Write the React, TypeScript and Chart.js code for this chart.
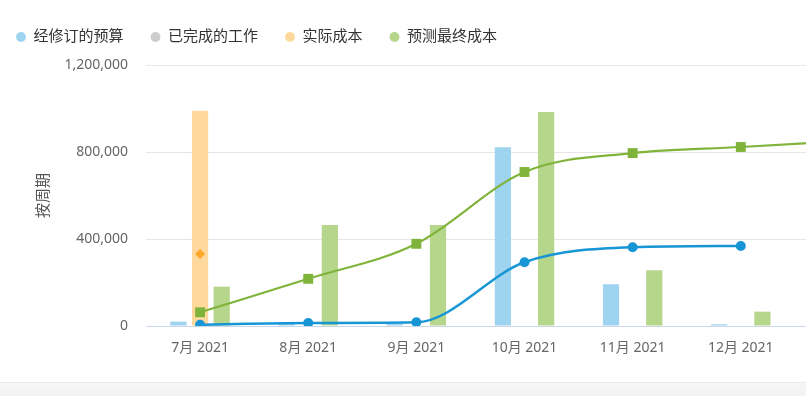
import React, { useEffect, useRef } from 'react';
import { Chart, registerables } from 'chart.js';

Chart.register(...registerables);

// ---- data ----
const categories = ['7月 2021', '8月 2021', '9月 2021', '10月 2021', '11月 2021', '12月 2021', '1月 2022'];
const legendLabels = ['经修订的预算', '已完成的工作', '实际成本', '预测最终成本'];
const revisedBudget = [20000, 10000, 10000, 822000, 192000, 8000, null];
const completedWork: (number | null)[] = [];
const actualCost = [990000, null, null, null, null, null, null];
const forecastFinalCost = [181000, 464000, 464000, 984000, 256000, 66000, null];
const revisedBudgetLine = [6000, 14000, 17000, 293000, 362000, 368000, null];
const forecastFinalLine = [63000, 217000, 378000, 708000, 795000, 823000, 852000];
const actualCostPoint = [331000, null, null, null, null, null, null];
const yTicks = [0, 400000, 800000, 1200000];
const yAxisTitle = '按周期';

const FONT = "'Noto Sans', 'Noto Sans CJK SC', sans-serif";

export default function App() {
  const ref = useRef<HTMLCanvasElement | null>(null);

  useEffect(() => {
    if (!ref.current) return;
    const chart = new Chart(ref.current, {
      type: 'bar',
      data: {
        labels: categories,
        datasets: [
          {
            type: 'bar',
            label: legendLabels[0],
            data: revisedBudget,
            backgroundColor: '#9ed4ef',
            borderWidth: 0,
            order: 1,
          },
          {
            type: 'line',
            label: legendLabels[1],
            data: completedWork,
            backgroundColor: '#cccccc',
            borderColor: '#cccccc',
            pointBorderWidth: 0,
            order: 1,
          },
          {
            type: 'bar',
            label: legendLabels[2],
            data: actualCost,
            backgroundColor: '#ffd89e',
            borderWidth: 0,
            order: 1,
          },
          {
            type: 'bar',
            label: legendLabels[3],
            data: forecastFinalCost,
            backgroundColor: '#b6d68c',
            borderWidth: 0,
            order: 1,
          },
          {
            type: 'line',
            label: legendLabels[0],
            data: revisedBudgetLine,
            borderColor: '#1796d6',
            backgroundColor: '#1796d6',
            borderWidth: 2.5,
            pointStyle: 'circle',
            pointRadius: 5,
            pointBorderWidth: 0,
            cubicInterpolationMode: 'monotone',
            spanGaps: false,
            order: 0,
          },
          {
            type: 'line',
            label: legendLabels[3],
            data: forecastFinalLine,
            borderColor: '#80b33a',
            backgroundColor: '#80b33a',
            borderWidth: 2.2,
            pointStyle: 'rect',
            pointRadius: 7,
            pointBorderWidth: 0,
            cubicInterpolationMode: 'monotone',
            order: 0,
          },
          {
            type: 'line',
            label: legendLabels[2],
            data: actualCostPoint,
            borderColor: '#ffa726',
            backgroundColor: '#ffa726',
            showLine: false,
            pointStyle: 'rectRot',
            pointRadius: 5,
            pointBorderWidth: 0,
            order: 0,
          },
        ],
      },
      options: {
        responsive: false,
        animation: false,
        datasets: {
          bar: { categoryPercentage: 0.6, barPercentage: 0.75 },
        },
        layout: { padding: { left: 0, top: 2.5, right: 16, bottom: 25.2 } },
        plugins: {
          tooltip: { enabled: false },
          title: {
            display: true,
            text: '',
            weight: 500,
            position: 'top',
            font: { size: 10.5, lineHeight: 1 },
            padding: 0,
          },
          legend: {
            position: 'top',
            align: 'start',
            labels: {
              usePointStyle: true,
              pointStyle: 'circle',
              boxWidth: 10,
              boxHeight: 7,
              padding: 27,
              color: '#333333',
              font: { family: FONT, size: 15 },
              filter: (item: any) => item.datasetIndex < 4,
            },
          },
        },
        scales: {
          x: {
            offset: true,
            grid: { display: false, drawTicks: false },
            border: { display: false },
            ticks: {
              color: '#666666',
              font: { family: FONT, size: 14 },
              padding: 14,
              maxRotation: 0,
              autoSkip: false,
            },
          },
          y: {
            min: 0,
            max: 1200000,
            afterBuildTicks: (s: any) => {
              s.ticks = yTicks.map((v) => ({ value: v }));
            },
            afterFit: (s: any) => {
              s.width = 157;
            },
            grid: {
              drawTicks: false,
              color: (ctx: any) => (ctx.tick && ctx.tick.value === 0 ? '#ccd6eb' : '#e6e6e6'),
              lineWidth: 1,
            },
            border: { display: false },
            ticks: {
              color: '#666666',
              font: { family: FONT, size: 14 },
              padding: 18,
              callback: (v: any) => Number(v).toLocaleString('en-US'),
            },
            title: {
              display: true,
              text: yAxisTitle,
              color: '#555555',
              font: { family: FONT, size: 15 },
              padding: { top: 46, bottom: 4 },
            },
          },
        },
      },
    } as any);
    return () => chart.destroy();
  }, []);

  return (
    <div
      style={{
        position: 'fixed',
        left: 0,
        top: 0,
        width: 806,
        height: 396,
        overflow: 'hidden',
        background: '#ffffff',
      }}
    >
      <canvas ref={ref} width={930} height={396} style={{ position: 'absolute', left: -11, top: 0 }} />
      <div
        style={{
          position: 'absolute',
          left: 0,
          top: 382,
          width: 806,
          height: 14,
          borderTop: '1px solid #ececec',
          background: 'linear-gradient(#f6f6f6, #f2f2f2)',
        }}
      />
    </div>
  );
}
